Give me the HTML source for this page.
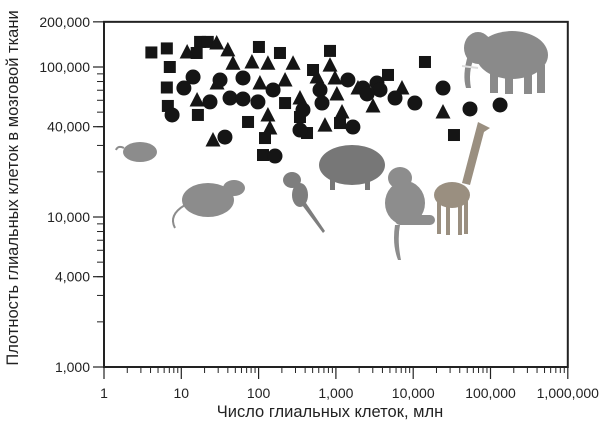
<!DOCTYPE html>
<html><head><meta charset="utf-8"><style>
html,body{margin:0;padding:0;background:#fff;}
svg{display:block;font-family:"Liberation Sans","DejaVu Sans",sans-serif;}
</style></head><body>
<svg id="chart" width="600" height="427" viewBox="0 0 600 427">
<g id="animals">
  <g fill="#8a8a8a">
    <ellipse cx="512" cy="55" rx="36" ry="24"/><ellipse cx="478" cy="48" rx="14" ry="16"/>
    <rect x="490" y="65" width="8" height="28"/><rect x="505" y="68" width="8" height="26"/><rect x="524" y="68" width="8" height="26"/><rect x="537" y="65" width="8" height="28"/>
    <path d="M468 55 Q462 75 466 88 L471 88 Q468 72 474 58Z"/><path d="M462 66 L478 68" stroke="#ddd" stroke-width="2"/>
  </g>
  <g fill="#9a8f80">
    <path d="M478 122 L490 128 L484 132 L470 185 L462 183 Z"/>
    <ellipse cx="452" cy="195" rx="18" ry="13"/>
    <rect x="437" y="200" width="4" height="34"/><rect x="446" y="203" width="4" height="32"/><rect x="458" y="203" width="4" height="32"/><rect x="464" y="200" width="4" height="34"/>
  </g>
  <g fill="#8d8d8d">
    <ellipse cx="400" cy="178" rx="12" ry="11"/><ellipse cx="405" cy="203" rx="20" ry="22"/>
    <rect x="395" y="215" width="40" height="10" rx="5"/><path d="M395 225 Q392 245 398 260 L401 260 Q397 240 400 225Z"/>
  </g>
  <g fill="#777">
    <ellipse cx="352" cy="165" rx="33" ry="20"/><rect x="330" y="175" width="5" height="15"/><rect x="365" y="175" width="5" height="15"/>
  </g>
  <g fill="#7e7e7e">
    <ellipse cx="292" cy="180" rx="9" ry="8"/><ellipse cx="300" cy="195" rx="8" ry="12"/><path d="M302 205 L323 233 L325 231 L306 203Z"/>
  </g>
  <g fill="#8c8c8c">
    <ellipse cx="208" cy="200" rx="26" ry="17"/><ellipse cx="234" cy="188" rx="11" ry="8"/>
    <path d="M185 205 Q168 215 175 228" stroke="#8c8c8c" stroke-width="2" fill="none"/>
  </g>
  <g fill="#8c8c8c">
    <ellipse cx="140" cy="152" rx="17" ry="10"/><path d="M124 148 Q118 145 116 150" stroke="#8c8c8c" stroke-width="2" fill="none"/>
  </g>
</g>
<g id="axes"></g>
<g id="marks"></g>
<text x="330" y="417" text-anchor="middle" font-size="16.5" fill="#222">Число глиальных клеток, млн</text>
<text transform="translate(18,188) rotate(-90)" text-anchor="middle" font-size="16.5" fill="#222">Плотность глиальных клеток в мозговой ткани</text>
</svg>
<script>
const xTickVals=[1,10,100,1000,10000,100000,1000000];
const xTickLabels=["1","10","100","1,000","10,000","100,000","1,000,000"];
const yTickVals=[1000,4000,10000,40000,100000,200000];
const yTickLabels=["1,000","4,000","10,000","40,000","100,000","200,000"];
const sqX=[4.1,6.5,17.5,22,101,189,15.8,839,7.1,6.5,6.7,73,121,114,16.4,506,220,343,423,1130,14200,33700,4720];
const sqY=[125000,133000,147000,147000,136000,124000,124000,128000,100000,73000,55000,43000,33600,25900,47900,95500,57500,46400,36300,42300,108000,35200,88500];
const triX=[28.7,40,11.9,82,132,279,839,46.6,220,104,973,16,132,140,25.7,722,1200,570,1930,29,343,1030,3020,7160,24300];
const triY=[144500,130000,126000,108000,106000,106000,103000,106000,81900,78200,84500,60300,47900,39200,32600,41000,50100,85700,72400,78200,62100,66100,55000,72400,50100];
const cirX=[14.2,10.8,7.6,36.7,163,1430,1660,623,661,62.8,42.7,98,23.5,343,375,31.7,154,62.8,2240,3400,5820,10500,24300,54300,133000,3720,2530];
const cirY=[85700,72400,47900,34100,25500,81900,39800,70300,57500,84500,62100,58500,58500,38000,51700,81900,70300,61200,72400,78200,62100,57500,72400,52500,55800,70300,66100];
const X0=104,XW=77.3,Y0=367,YD=150;
function sx(v){return X0+Math.log10(v)*XW;}
function sy(v){return Y0-(Math.log10(v)-3)*YD;}
const NS="http://www.w3.org/2000/svg";
function mk(t,a,p){const e=document.createElementNS(NS,t);for(const k in a)e.setAttribute(k,a[k]);p.appendChild(e);return e;}
const axes=document.getElementById('axes'),marks=document.getElementById('marks');
const frame=mk('rect',{x:X0,y:sy(200000),width:sx(1000000)-X0,height:Y0-sy(200000),fill:'none',stroke:'#222','stroke-width':2},axes);


for(let d=0;d<6;d++)for(let m=2;m<10;m++){const x=sx(Math.pow(10,d)*m);mk('line',{x1:x,x2:x,y1:Y0,y2:Y0+6,stroke:'#222','stroke-width':1},axes);}
for(let d=3;d<5;d++)for(let m=2;m<10;m++){const y=sy(Math.pow(10,d)*m);mk('line',{x1:X0-7,x2:X0,y1:y,y2:y,stroke:'#222','stroke-width':1},axes);}
xTickVals.forEach((v,i)=>{const x=sx(v);mk('line',{x1:x,x2:x,y1:Y0,y2:Y0+12,stroke:'#222','stroke-width':1.2},axes);
 const t=mk('text',{x:x,y:Y0+31,'text-anchor':'middle','font-size':14,fill:'#222'},axes);t.textContent=xTickLabels[i];
 
 });
yTickVals.forEach((v,i)=>{const y=sy(v);mk('line',{x1:X0-11,x2:X0,y1:y,y2:y,stroke:'#222','stroke-width':1.2},axes);
 const t=mk('text',{x:X0-14,y:y+5,'text-anchor':'end','font-size':14,fill:'#222'},axes);t.textContent=yTickLabels[i];
 
 });
const s=6;
sqX.forEach((v,i)=>{const x=sx(v),y=sy(sqY[i]);const e=mk('rect',{x:x-s,y:y-s,width:2*s,height:2*s,fill:'#151515'},marks);
 
 });
triX.forEach((v,i)=>{const x=sx(v),y=sy(triY[i]);const e=mk('polygon',{points:`${x},${y-8} ${x+7.5},${y+6.5} ${x-7.5},${y+6.5}`,fill:'#151515'},marks);
 
 });
cirX.forEach((v,i)=>{const x=sx(v),y=sy(cirY[i]);const e=mk('circle',{cx:x,cy:y,r:7.5,fill:'#151515'},marks);
 
 });
</script>
</body></html>
